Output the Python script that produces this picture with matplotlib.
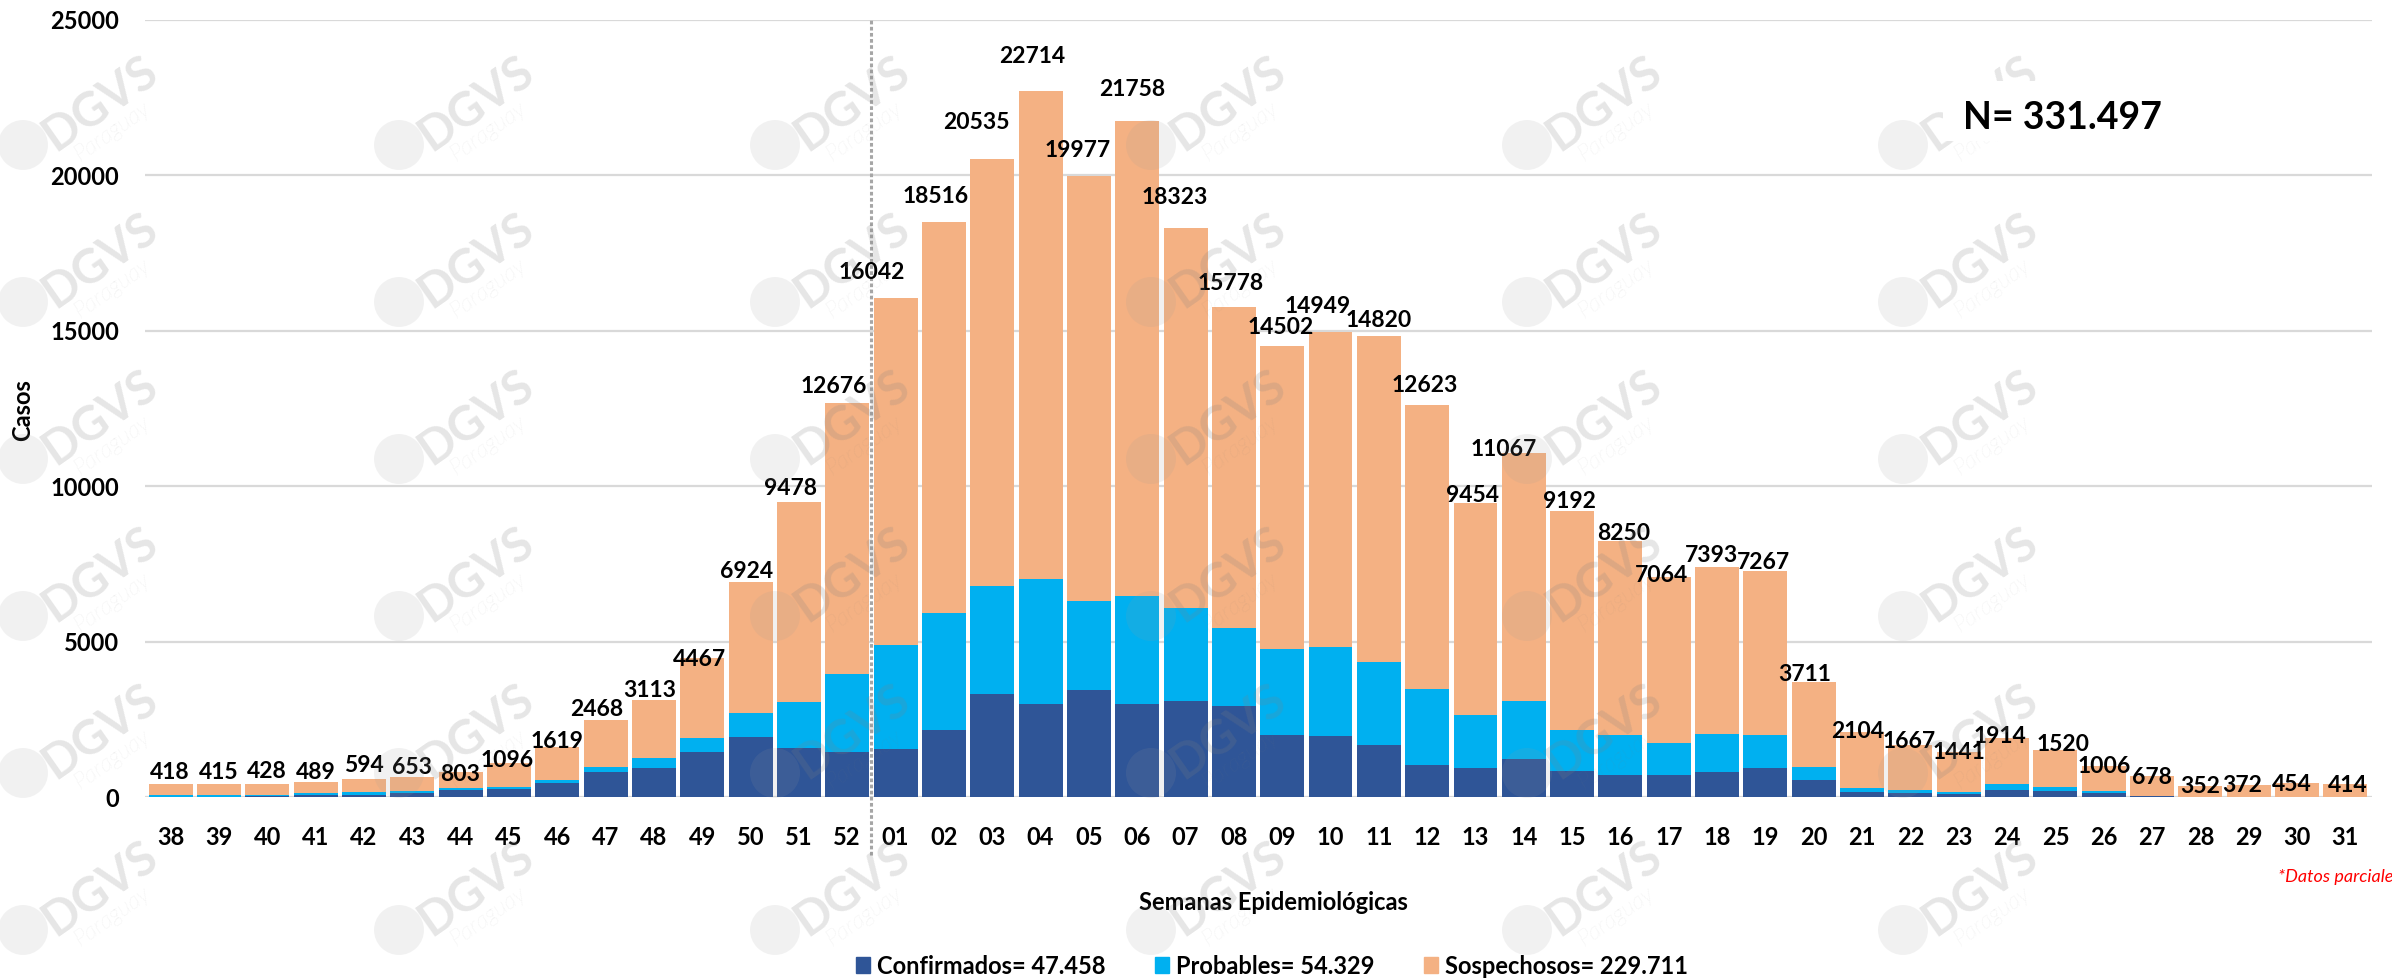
import matplotlib
matplotlib.use("Agg")
import matplotlib.pyplot as plt
from matplotlib.patches import Patch, Rectangle, Circle
import numpy as np

plt.rcParams['font.family'] = ['Lato', 'DejaVu Sans']

# ---------------- data ----------------
weeks = ["38", "39", "40", "41", "42", "43", "44", "45", "46", "47", "48", "49", "50", "51", "52",
         "01", "02", "03", "04", "05", "06", "07", "08", "09", "10", "11", "12", "13", "14", "15",
         "16", "17", "18", "19", "20", "21", "22", "23", "24", "25", "26", "27", "28", "29", "30", "31"]

totals = [418, 415, 428, 489, 594, 653, 803, 1096, 1619, 2468, 3113, 4467, 6924, 9478, 12676,
          16042, 18516, 20535, 22714, 19977, 21758, 18323, 15778, 14502, 14949, 14820, 12623, 9454, 11067, 9192,
          8250, 7064, 7393, 7267, 3711, 2104, 1667, 1441, 1914, 1520, 1006, 678, 352, 372, 454, 414]

confirmados = [15, 15, 20, 75, 80, 130, 215, 270, 440, 790, 940, 1445, 1915, 1580, 1445,
               1550, 2150, 3330, 2990, 3445, 2990, 3095, 2925, 1985, 1950, 1680, 1025, 940, 1225, 840,
               705, 705, 805, 925, 555, 170, 120, 85, 235, 200, 120, 20, 5, 5, 5, 5]

probables = [45, 50, 40, 65, 70, 55, 65, 65, 110, 185, 320, 455, 790, 1480, 2505,
             3330, 3780, 3445, 4035, 2875, 3465, 2990, 2520, 2790, 2875, 2675, 2455, 1700, 1850, 1310,
             1280, 1025, 1210, 1060, 420, 135, 115, 65, 170, 135, 80, 25, 5, 5, 5, 5]

legend_labels = ["Confirmados= 47.458", "Probables= 54.329", "Sospechosos= 229.711"]
n_text = "N= 331.497"

# ---------------- layout (pixels of the 2392x980 output) ----------------
W, H = 2392, 980
label_gap = [14, 14, 14, 11, 15, 11, 0, 4, 7, 13, 12, 1, 12, 16, 19,
             28, 27, 38, 37, 28, 33, 32, 25, 21, 28, 18, 21, 10, 6, 12,
             9, 4, 14, 11, 9, 2, 6, 2, 3, 7, 1, 0, 2, 2, 0, 1]
label_dx = [-1, 0, 0, 0, 0, 0, 0, -2, 0, -9, -4, -3, -4, -8, -13,
            -24, -8, -16, -8, -11, -5, -11, -3, -1, -13, 0, -2, -3, -20, -3,
            3, -7, -6, -2, -9, -5, -1, 0, -7, 8, 0, 0, 0, -7, -5, 2]

c_conf, c_prob, c_sosp = '#2F5597', '#00B0F0', '#F4B183'

conf = np.array(confirmados, dtype=float)
prob = np.array(probables, dtype=float)
sosp = np.array(totals, dtype=float) - conf - prob
x = np.arange(len(weeks))

fig = plt.figure(figsize=(W / 100, H / 100), dpi=100)
fig.patch.set_facecolor('white')
ax = fig.add_axes([145 / W, 1 - 797 / H, (2372 - 145) / W, (797 - 20) / H])

bw = 0.91
ax.bar(x, conf, width=bw, color=c_conf, zorder=2)
ax.bar(x, prob, width=bw, bottom=conf, color=c_prob, zorder=2)
ax.bar(x, sosp, width=bw, bottom=conf + prob, color=c_sosp, zorder=2)

ax.set_xlim(-0.53, len(weeks) - 0.45)
ax.set_ylim(0, 25000)
ax.set_yticks(np.arange(0, 25001, 5000))
ax.set_yticklabels([str(v) for v in range(0, 25001, 5000)])
ax.set_xticks(x)
ax.set_xticklabels(weeks)
for s in ax.spines.values():
    s.set_visible(False)
ax.set_axisbelow(True)
ax.yaxis.grid(True, color='#D9D9D9', lw=1.6)
ax.tick_params(axis='y', length=0, pad=18.5, labelsize=17)
ax.tick_params(axis='x', length=0, pad=21, labelsize=17)
for lab in ax.get_xticklabels() + ax.get_yticklabels():
    lab.set_fontweight('bold')

# dotted separator between years
ax.axvline(14.5, ymin=-0.075, ymax=1.003, clip_on=False, color='#A6A6A6',
           ls=(0, (1.2, 0.8)), lw=2.2, zorder=3)

# total labels
for i, t in enumerate(totals):
    ax.annotate(str(t), xy=(x[i], t), xytext=(label_dx[i], label_gap[i] - 8.5),
                textcoords='offset pixels', ha='center', va='baseline',
                fontsize=16.5, fontweight='bold', color='black', zorder=4)

# axis titles
fig.text(23 / W, 1 - 410 / H, 'Casos', rotation=90, ha='center', va='center',
         fontsize=17, fontweight='bold')
fig.text(1273 / W, 1 - 903 / H, 'Semanas Epidemiológicas', ha='center', va='center',
         fontsize=17, fontweight='bold')
fig.text(2278 / W, 1 - 877 / H, '*Datos parciales', ha='left', va='center',
         fontsize=13, style='italic', color='#FF0000')

# legend
handles = [Patch(color=c_conf), Patch(color=c_prob), Patch(color=c_sosp)]
fig.legend(handles, legend_labels, loc='center', bbox_to_anchor=(1272 / W, 1 - 966 / H),
           ncol=3, frameon=False, prop={'size': 17, 'weight': 'bold'},
           handlelength=0.6, handleheight=0.65, handletextpad=0.3, columnspacing=2.1,
           borderpad=0.1)

# watermarks (faint, tiled)
for col in range(6):
    for row in range(6):
        cx = 100 + 376 * col
        cy = 104 + 157 * row
        fig.text(cx / W, 1 - cy / H, 'DGVS', rotation=35, rotation_mode='anchor',
                 ha='center', va='center', fontsize=34, fontweight='bold',
                 color='#808080', alpha=0.2, zorder=5)
        fig.text((cx + 12) / W, 1 - (cy + 27) / H, 'Paraguay', rotation=35, rotation_mode='anchor',
                 ha='center', va='center', fontsize=17, style='italic', fontweight='light',
                 color='#808080', alpha=0.2, zorder=5)
        fig.add_artist(Circle(((cx - 77) / 100, (H - cy - 41) / 100), 0.25,
                              transform=fig.dpi_scale_trans, fc='#9A9A9A', ec='none',
                              alpha=0.13, zorder=5))

# N box
fig.add_artist(Rectangle((1943 / W, 1 - 141 / H), (W - 1943) / W, 60 / H,
                         transform=fig.transFigure, fc='white', ec='none', zorder=6))
fig.text(2062 / W, 1 - 118 / H, n_text, ha='center', va='center', fontsize=27,
         fontweight='bold', zorder=7)

fig.savefig('out.png', dpi=100, facecolor='white')
